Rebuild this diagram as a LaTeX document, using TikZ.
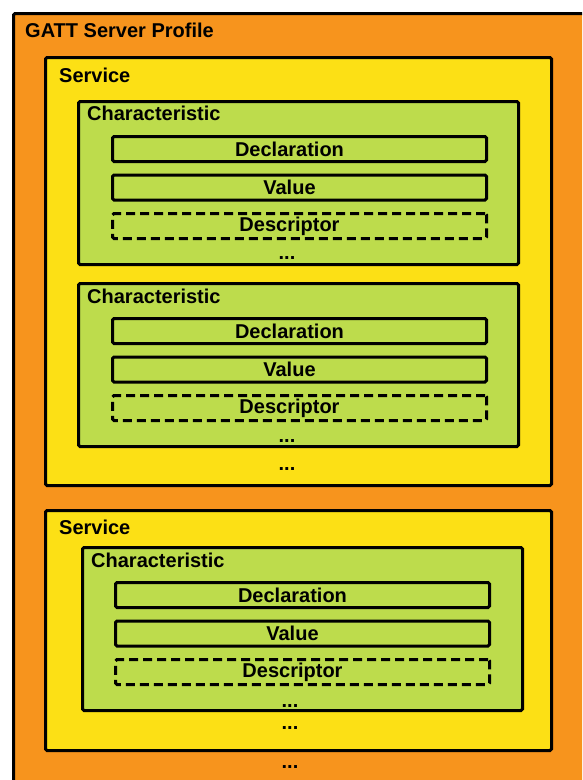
\documentclass[tikz,border=0pt]{standalone}
\usepackage{fontspec}
\setmainfont{Liberation Sans}
\usepackage{tikz}
\usetikzlibrary{positioning}

\definecolor{profileorange}{RGB}{247,148,29}
\definecolor{serviceyellow}{RGB}{252,224,21}
\definecolor{chargreen}{RGB}{189,220,76}

\begin{document}
\begin{tikzpicture}[x=1pt, y=-1pt, node distance=38.5pt,
  font=\fontsize{20}{23}\selectfont\bfseries,
  frame/.style={draw, line width=3pt, rounded corners=1.5pt},
  attr/.style={frame, minimum width=374pt, minimum height=25pt, inner sep=0pt,
    execute at begin node=\hspace*{-20pt}},
  optattr/.style={attr, dash pattern=on 9pt off 5pt},
  title/.style={anchor=base west, inner sep=0pt},
  more/.style={anchor=base, inner sep=0pt}]
\useasboundingbox (0,0) rectangle (582,780);
\clip (0,0) rectangle (582,780);

% Profile
\draw[frame, fill=profileorange] (13.5,13.5) rectangle (600,800);
\node (gatt) [title] at (25,37) {GATT Server Profile};

% First service
\draw[frame, fill=serviceyellow] (45.5,57.5) rectangle (551.5,485.5);
\node (svc1) [title] at (59,82) {Service};

% First characteristic
\draw[frame, fill=chargreen] (78.5,101.5) rectangle (518.5,264.5);
\node (char1) [title] at (87,120) {Characteristic};
\node (decl1) [attr] at (299.5,149) {Declaration};
\node (val1) [attr, below of=decl1] {Value};
\node (desc1) [optattr, below of=val1] {Descriptor};
\node (more1) [more] at (287,259) {...};

% Second characteristic
\draw[frame, fill=chargreen] (78.5,283.5) rectangle (518.5,446.5);
\node (char2) [title] at (87,303) {Characteristic};
\node (decl2) [attr] at (299.5,331) {Declaration};
\node (val2) [attr, below of=decl2] {Value};
\node (desc2) [optattr, below of=val2] {Descriptor};
\node (more2) [more] at (287,442) {...};
\node (more3) [more] at (287,470) {...};

% Second service
\draw[frame, fill=serviceyellow] (45.5,510.5) rectangle (551.5,750.5);
\node (svc2) [title] at (59,534) {Service};

% Third characteristic
\draw[frame, fill=chargreen] (82.5,547.5) rectangle (522.5,710.5);
\node (char3) [title] at (91,567) {Characteristic};
\node (decl3) [attr] at (302.5,595) {Declaration};
\node (val3) [attr, below of=decl3] {Value};
\node (desc3) [optattr, below of=val3] {Descriptor};
\node (more4) [more] at (290,707) {...};
\node (more5) [more] at (290,729) {...};
\node (more6) [more] at (290,768) {...};
\end{tikzpicture}
\end{document}
